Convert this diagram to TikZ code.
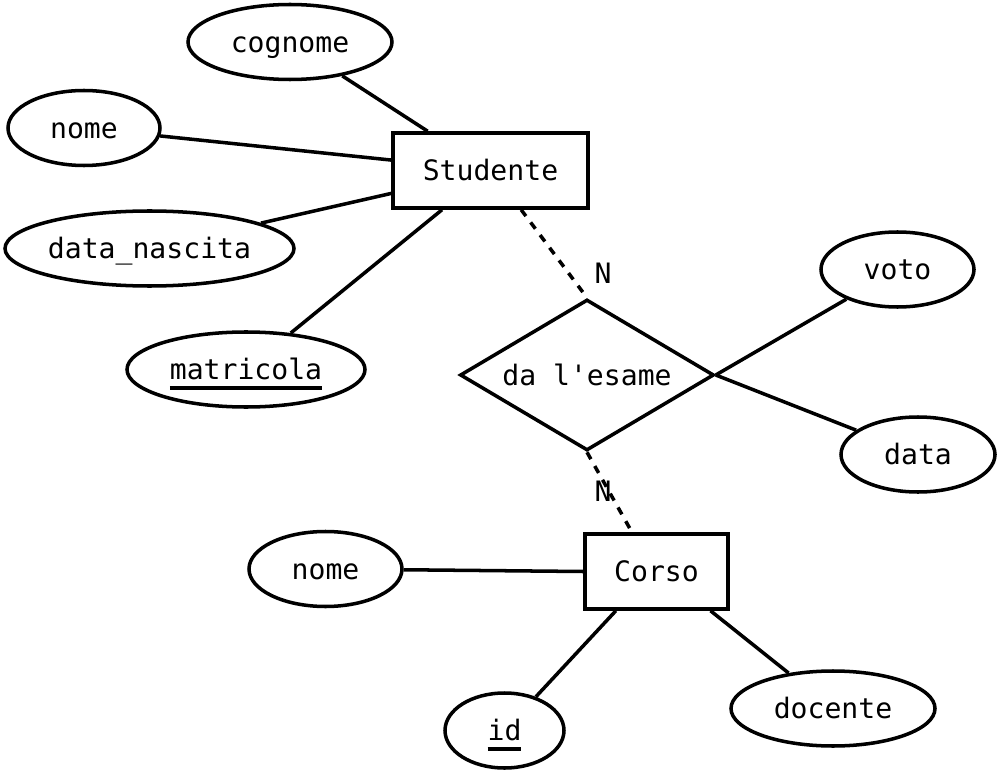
\documentclass[tikz,border=0pt]{standalone}
\usepackage{fontspec}
\setmonofont{DejaVu Sans Mono}
\usepackage{tikz}
\usetikzlibrary{shapes.geometric}

\newcommand{\keyul}[1]{\setbox0\hbox{#1}\rlap{\rule[-6pt]{\wd0}{2.2pt}}\box0}

\begin{document}
\begin{tikzpicture}[
  every node/.style={font=\fontsize{16}{19}\ttfamily, text height=12.5pt, text depth=0.8pt},
  entity/.style={rectangle, draw, line width=2pt, inner sep=0pt},
  attr/.style={ellipse, draw, line width=2pt, inner sep=0pt, minimum height=1.5cm},
  rel/.style={diamond, draw, line width=2pt, inner sep=0pt, aspect=1.66},
  link/.style={line width=2pt},
  weak/.style={line width=2pt, dash pattern=on 4.5pt off 4.5pt},
  card/.style={inner sep=0pt}
]
\useasboundingbox (0,0) rectangle (20,15.46);

% entities
\node[entity, minimum width=3.9cm, minimum height=1.5cm] (studente) at (9.81, 12.05) {Studente};
\node[entity, minimum width=2.86cm, minimum height=1.5cm] (corso) at (13.13, 4.03) {Corso};

% relationship
\node[rel, minimum width=5.08cm, minimum height=3.02cm] (esame) at (11.74, 7.96) {da l'esame};

% attributes of Studente
\node[attr, minimum width=4.08cm] (cognome) at (5.8, 14.62) {cognome};
\node[attr, minimum width=3.04cm] (nome) at (1.68, 12.9) {nome};
\node[attr, minimum width=5.78cm] (nascita) at (2.99, 10.49) {data\_nascita};
\node[attr, minimum width=4.76cm] (matricola) at (4.92, 8.07) {\keyul{matricola}};

% attributes of the relationship
\node[attr, minimum width=3.06cm] (voto) at (17.95, 10.07) {voto};
\node[attr, minimum width=3.08cm] (data) at (18.36, 6.37) {data};

% attributes of Corso
\node[attr, minimum width=3.06cm] (nomecorso) at (6.51, 4.08) {nome};
\node[attr, minimum width=2.38cm] (id) at (10.09, 0.85) {\keyul{id}};
\node[attr, minimum width=4.08cm] (docente) at (16.66, 1.29) {docente};

\draw[link] (cognome) -- (studente.148);
\draw[link] (nome) -- (studente.174);
\draw[link] (nascita) -- (studente.-167);
\draw[link] (matricola) -- (studente.-141);

\draw[weak] (studente.-52) -- (esame.north);
\draw[weak] (esame.south) -- (corso.122);
\node[card] (n1) at (12.06, 10.0) {N};
\node[card] (n2) at (12.06, 5.64) {N};

\draw[link] (esame.east) -- (voto);
\draw[link] (esame.east) -- (data);

\draw[link] (nomecorso) -- (corso.west);
\draw[link] (id) -- (corso.-136);
\draw[link] (docente) -- (corso.-36);

\end{tikzpicture}
\end{document}
